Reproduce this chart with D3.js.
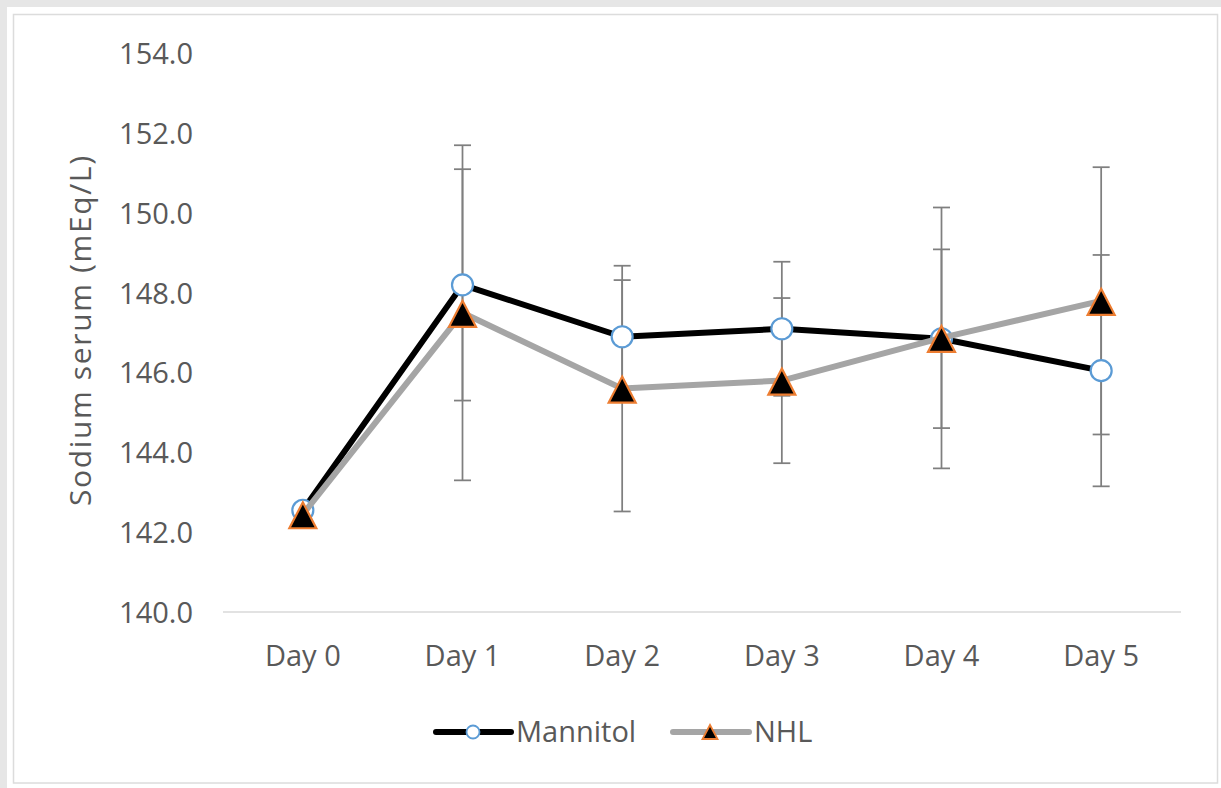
<!DOCTYPE html>
<html>
<head>
<meta charset="utf-8">
<script src="https://cdn.jsdelivr.net/npm/d3@7"></script>
<style>
  html, body { margin: 0; padding: 0; background: #e6e6e6; }
  svg { display: block; }
</style>
</head>
<body>
<script>
const days = ["Day 0", "Day 1", "Day 2", "Day 3", "Day 4", "Day 5"];
const mannitol = [142.55, 148.2, 146.9, 147.1, 146.85, 146.05];
const mannitolSD = [0, 2.9, 1.42, 1.68, 2.24, 2.9];
const nhl = [142.45, 147.5, 145.6, 145.8, 146.87, 147.8];
const nhlSD = [0, 4.2, 3.08, 2.07, 3.27, 3.35];
const yTicks = [140, 142, 144, 146, 148, 150, 152, 154];
const seriesNames = ["Mannitol", "NHL"];
const yTitle = "Sodium serum (mEq/L)";

const W = 1221, H = 788;
const font = "'Open Sans', 'Segoe UI', sans-serif";
const textColor = "#595959";

const svg = d3.select("body").append("svg").attr("width", W).attr("height", H);

// frame
svg.append("rect").attr("x", 0).attr("y", 0).attr("width", W).attr("height", H).attr("fill", "#e6e6e6");
svg.append("rect").attr("x", 7).attr("y", 7).attr("width", W - 7).attr("height", H - 7).attr("fill", "#ffffff");
svg.append("rect").attr("x", 13.5).attr("y", 14.5).attr("width", 1204).attr("height", 768.5)
  .attr("fill", "#ffffff").attr("stroke", "#dcdcdc").attr("stroke-width", 1.5);

const x = d3.scaleBand().domain(days).range([223, 1181]).padding(0);
const y = d3.scaleLinear().domain([140, 154]).range([612, 53.5]);
const cx = d => x(d) + x.bandwidth() / 2;

// baseline gridline
svg.append("line").attr("x1", x.range()[0]).attr("x2", x.range()[1])
  .attr("y1", y(140)).attr("y2", y(140)).attr("stroke", "#d9d9d9").attr("stroke-width", 1.5);

// y axis labels
const yAxis = d3.axisLeft(y).tickValues(yTicks).tickFormat(d3.format(".1f")).tickSize(0).tickPadding(0);
const gy = svg.append("g").attr("transform", "translate(193,0)").call(yAxis);
gy.select(".domain").remove();
gy.selectAll("text").attr("font-family", font).attr("font-size", 29).attr("fill", textColor)
  .attr("dy", "0.35em");

// x axis labels
const xAxis = d3.axisBottom(x).tickSize(0).tickPadding(0);
const gx = svg.append("g").attr("transform", "translate(0,645)").call(xAxis);
gx.select(".domain").remove();
gx.selectAll("text").attr("font-family", font).attr("font-size", 29).attr("fill", textColor);

// y title
svg.append("text").attr("transform", "translate(91,331) rotate(-90)")
  .attr("text-anchor", "middle").attr("font-family", font).attr("font-size", 30)
  .attr("textLength", 350).attr("lengthAdjust", "spacing")
  .attr("fill", textColor).text(yTitle);

// error bars
const errColor = "#7f7f7f";
function errorBars(vals, sds) {
  const g = svg.append("g");
  days.forEach((d, i) => {
    if (!sds[i]) return;
    const X = cx(d), top = y(vals[i] + sds[i]), bot = y(vals[i] - sds[i]);
    g.append("line").attr("x1", X).attr("x2", X).attr("y1", top).attr("y2", bot)
      .attr("stroke", errColor).attr("stroke-width", 1.75);
    [top, bot].forEach(yy => g.append("line").attr("x1", X - 8.5).attr("x2", X + 8.5)
      .attr("y1", yy).attr("y2", yy).attr("stroke", errColor).attr("stroke-width", 1.75));
  });
}
errorBars(mannitol, mannitolSD);
errorBars(nhl, nhlSD);

const line = d3.line().x((v, i) => cx(days[i])).y(v => y(v));

// Mannitol
svg.append("path").datum(mannitol).attr("d", line).attr("fill", "none")
  .attr("stroke", "#000000").attr("stroke-width", 6).attr("stroke-linejoin", "round");
svg.append("g").selectAll("circle").data(mannitol).join("circle")
  .attr("cx", (v, i) => cx(days[i])).attr("cy", v => y(v)).attr("r", 10.5)
  .attr("fill", "#ffffff").attr("stroke", "#5b9bd5").attr("stroke-width", 2.2);

// NHL
const tri = (w, h) => `M0,${-h / 2}L${w / 2},${h / 2}L${-w / 2},${h / 2}Z`;
svg.append("path").datum(nhl).attr("d", line).attr("fill", "none")
  .attr("stroke", "#a5a5a5").attr("stroke-width", 6).attr("stroke-linejoin", "round");
svg.append("g").selectAll("path").data(nhl).join("path")
  .attr("transform", (v, i) => `translate(${cx(days[i])},${y(v) + 1})`)
  .attr("d", tri(27, 26)).attr("fill", "#000000").attr("stroke", "#ed7d31").attr("stroke-width", 2.2)
  .attr("stroke-linejoin", "miter");

// legend
const lg = svg.append("g");
const legY = 732;
lg.append("line").attr("x1", 436).attr("x2", 511).attr("y1", legY).attr("y2", legY)
  .attr("stroke", "#000").attr("stroke-width", 6).attr("stroke-linecap", "round");
lg.append("circle").attr("cx", 473).attr("cy", legY).attr("r", 6.5)
  .attr("fill", "#fff").attr("stroke", "#5b9bd5").attr("stroke-width", 1.8);
lg.append("text").attr("x", 516).attr("y", legY).attr("dy", "0.35em")
  .attr("font-family", font).attr("font-size", 29).attr("fill", textColor).text(seriesNames[0]);
lg.append("line").attr("x1", 673).attr("x2", 749).attr("y1", legY).attr("y2", legY)
  .attr("stroke", "#a5a5a5").attr("stroke-width", 6).attr("stroke-linecap", "round");
lg.append("path").attr("transform", `translate(710,${legY})`).attr("d", tri(15, 14))
  .attr("fill", "#000").attr("stroke", "#ed7d31").attr("stroke-width", 1.8);
lg.append("text").attr("x", 754).attr("y", legY).attr("dy", "0.35em")
  .attr("font-family", font).attr("font-size", 29).attr("fill", textColor).text(seriesNames[1]);
</script>
</body>
</html>
